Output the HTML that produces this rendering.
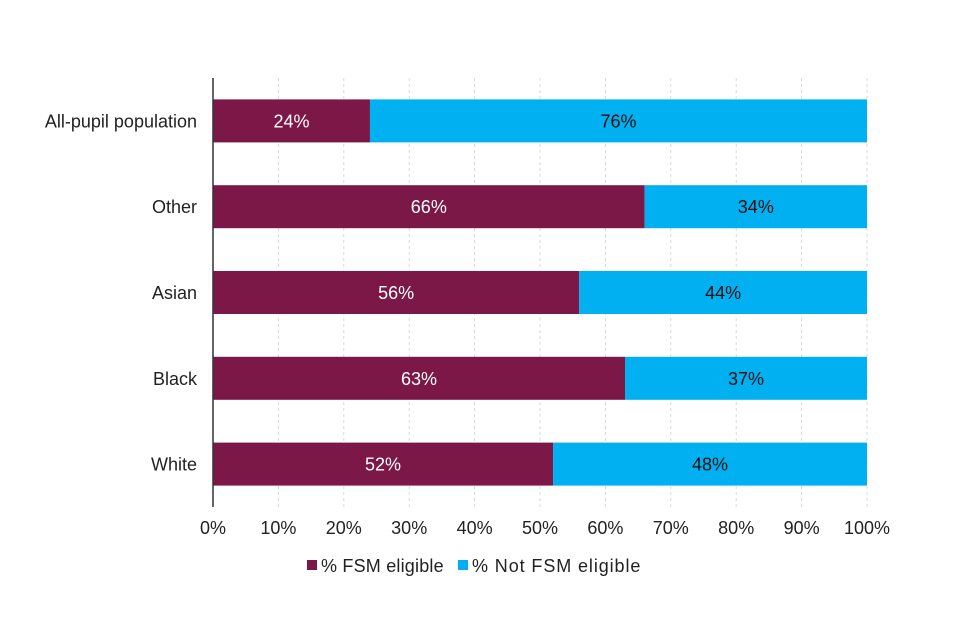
<!DOCTYPE html>
<html><head><meta charset="utf-8"><style>
html,body{margin:0;padding:0;background:#fff;}
svg{display:block;font-family:"Liberation Sans",Arial,sans-serif;}
</style></head><body>
<svg id="chart" width="960" height="640"></svg>
<script>
const categories = ["All-pupil population","Other","Asian","Black","White"];
const fsmValues = [24,66,56,63,52];
const notFsmValues = [76,34,44,37,48];
const tickValues = [0,10,20,30,40,50,60,70,80,90,100];
const seriesNames = ["% FSM eligible","% Not FSM eligible"];

const NS="http://www.w3.org/2000/svg";
const svg=document.getElementById('chart');
const x0=213,x1=867,yTop=78,yBot=507,bandH=(yBot-yTop)/categories.length,barH=43;
const C1="#7B1848",C2="#00B0F0",FS=18;
function xs(v){return x0+(x1-x0)*v/100;}
function yc(i){return yTop+bandH*(i+0.5);}
function mk(tag,attrs){const e=document.createElementNS(NS,tag);for(const k in attrs)e.setAttribute(k,attrs[k]);svg.appendChild(e);return e;}

tickValues.forEach((t,i)=>{
  if(t>0){const g=mk('line',{x1:xs(t),x2:xs(t),y1:yTop,y2:yBot,stroke:'#d9d9d9','stroke-dasharray':'3,3','stroke-width':1});
  
  }
  const l=mk('text',{x:xs(t),y:534,'text-anchor':'middle','font-size':FS,fill:'#222'});
  l.textContent=t+'%';
  
  
});

categories.forEach((c,i)=>{
  const y=yc(i)-barH/2;
  const b1=mk('rect',{x:xs(0),y:y,width:xs(fsmValues[i])-xs(0),height:barH,fill:C1});
  
  
  const b2=mk('rect',{x:xs(fsmValues[i]),y:y,width:xs(fsmValues[i]+notFsmValues[i])-xs(fsmValues[i]),height:barH,fill:C2});
  
  
  const t1=mk('text',{x:(xs(0)+xs(fsmValues[i]))/2,y:yc(i)+6.5,'text-anchor':'middle','font-size':FS,fill:'#fff'});
  t1.textContent=fsmValues[i]+'%';
  
  
  const t2=mk('text',{x:(xs(fsmValues[i])+xs(fsmValues[i]+notFsmValues[i]))/2,y:yc(i)+6.5,'text-anchor':'middle','font-size':FS,fill:'#111'});
  t2.textContent=notFsmValues[i]+'%';
  
  
  const cl=mk('text',{x:197,y:yc(i)+6.5,'text-anchor':'end','font-size':FS,fill:'#222'});
  cl.textContent=c;
  
  
});

const ax=mk('line',{x1:x0,x2:x0,y1:yTop,y2:yBot,stroke:'#333','stroke-width':1.5});



const lg=[[307,321,C1,0.2],[458,472,C2,0.9]];
lg.forEach((p,i)=>{
  const s=mk('rect',{x:p[0],y:560,width:10,height:10,fill:p[2]});
  
  
  const t=mk('text',{x:p[1],y:572,'font-size':FS,'letter-spacing':p[3],fill:'#222'});
  t.textContent=seriesNames[i];
  
  
});
</script>
</body></html>
